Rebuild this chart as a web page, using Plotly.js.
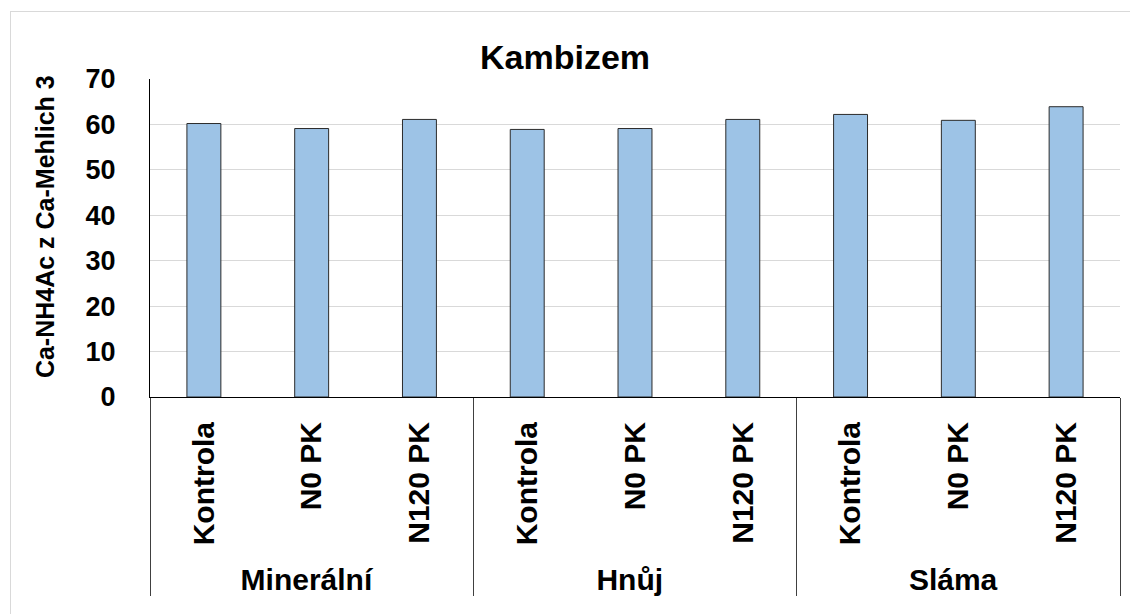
<!DOCTYPE html>
<html>
<head>
<meta charset="utf-8">
<script src="https://cdn.plot.ly/plotly-3.0.1.min.js"></script>
<style>
  html, body { margin: 0; padding: 0; background: #ffffff; }
  #frame { position: absolute; left: 10px; top: 11px; width: 1200px; height: 700px; border: 1px solid #d9d9d9; }
  #chart { position: absolute; left: 0; top: 0; width: 1130px; height: 614px; }
</style>
</head>
<body>
<div id="frame"></div>
<div id="chart"></div>
<script>
const groups = ["Minerální", "Minerální", "Minerální", "Hnůj", "Hnůj", "Hnůj", "Sláma", "Sláma", "Sláma"];
const treatments = ["Kontrola", "N0 PK", "N120 PK", "Kontrola", "N0 PK", "N120 PK", "Kontrola", "N0 PK", "N120 PK"];
const values = [60.2, 59.1, 61.1, 58.9, 59.1, 61.1, 62.2, 60.9, 63.9];
const chartTitle = "Kambizem";
const yTitle = "Ca-NH4Ac z Ca-Mehlich 3";

const fontFam = "Liberation Sans, Arial, sans-serif";

const trace = {
  type: "bar",
  x: [groups, treatments],
  y: values,
  marker: { color: "#9dc3e6", line: { color: "#2b2b2b", width: 1 } },
  hoverinfo: "skip"
};

const layout = {
  width: 1130,
  height: 614,
  paper_bgcolor: "rgba(0,0,0,0)",
  plot_bgcolor: "rgba(0,0,0,0)",
  margin: { l: 150, r: 10, t: 79, b: 217 },
  bargap: 0.685,
  showlegend: false,
  title: {
    text: chartTitle,
    font: { family: fontFam, size: 34, color: "#000000", weight: "bold" },
    x: 0.5, xanchor: "center",
    y: 0.907, yanchor: "middle", yref: "container"
  },
  xaxis: {
    type: "multicategory",
    showline: true, linecolor: "#000000", linewidth: 1,
    showgrid: false,
    ticks: "",
    ticklabelstandoff: 12,
    tickangle: -90,
    tickfont: { family: fontFam, size: 30, color: "#000000", weight: "bold" },
    showdividers: true,
    dividercolor: "#404040",
    dividerwidth: 1
  },
  yaxis: {
    range: [0, 70],
    dtick: 10,
    showline: true, linecolor: "#000000", linewidth: 1,
    showgrid: true, gridcolor: "#d9d9d9", gridwidth: 1,
    zeroline: false,
    ticks: "outside", ticklen: 28, tickcolor: "rgba(0,0,0,0)",
    tickfont: { family: fontFam, size: 27, color: "#000000", weight: "bold" }
  },
  annotations: [{
    text: yTitle,
    xref: "paper", yref: "paper",
    x: -0.108, y: 0.535,
    xanchor: "center", yanchor: "middle",
    textangle: -90,
    showarrow: false,
    font: { family: fontFam, size: 25, color: "#000000", weight: "bold" }
  }]
};

Plotly.newPlot("chart", [trace], layout, { staticPlot: true, displayModeBar: false });
</script>
</body>
</html>
